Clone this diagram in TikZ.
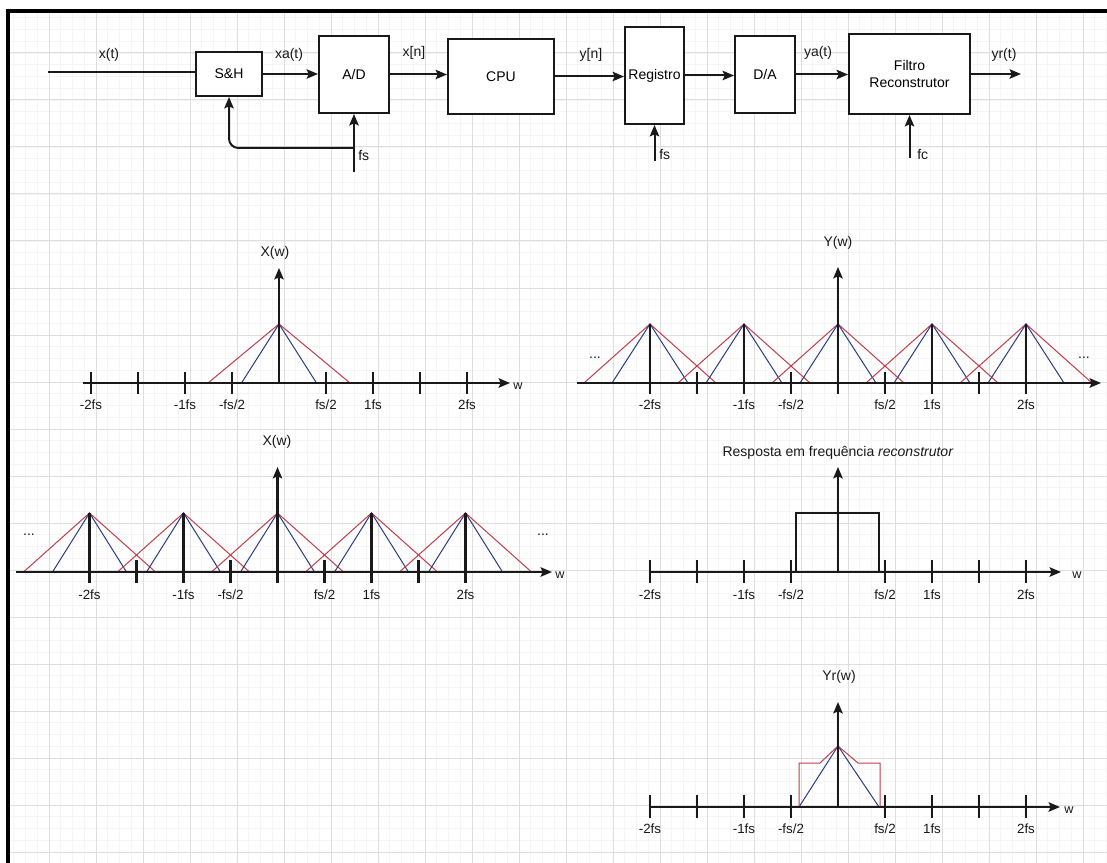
\documentclass[tikz,border=0pt]{standalone}
\usepackage{fontspec}
\setmainfont{Liberation Sans}
\usetikzlibrary{arrows.meta}

\definecolor{gridmajor}{RGB}{222,222,222}
\definecolor{gridminor}{RGB}{245,245,245}
\definecolor{spred}{RGB}{196,60,72}
\definecolor{spblue}{RGB}{42,60,132}
\definecolor{ink}{RGB}{25,25,25}

\tikzset{
  bw/.style={minimum width=#1*0.75pt},
  bh/.style={minimum height=#1*0.75pt},
  blk/.style={draw=ink, line width=1.5pt, fill=white, inner sep=0pt, align=center,
              font=\fontsize{10.5}{12.6}\selectfont},
  lbl/.style={inner sep=0pt, text=ink, font=\fontsize{10.5}{12.6}\selectfont},
  tl/.style={inner sep=0pt, text=ink, font=\fontsize{10}{12}\selectfont},
  wl/.style={inner sep=0pt, anchor=west, text=ink, font=\fontsize{9.5}{11}\selectfont},
  flow/.style={draw=ink, line width=1.5pt, -{Stealth[length=8.5pt,width=7pt,inset=1.5pt]}},
  axisarr/.style={draw=ink, line width=1.6pt, -{Stealth[length=8.5pt,width=7pt,inset=1.5pt]}},
  tk/.style={draw=ink, line width=1.6pt},
  redtri/.style={draw=spred, line width=0.75pt},
  bluetri/.style={draw=spblue, line width=0.75pt},
}

% labels under a frequency axis: centre x, label y, name prefix
\newcommand\freqlabels[3]{%
  \node[tl] (#3a) at (#1-188,#2) {-2fs};
  \node[tl] (#3b) at (#1-94,#2) {-1fs};
  \node[tl] (#3c) at (#1-47,#2) {-fs/2};
  \node[tl] (#3d) at (#1+47,#2) {fs/2};
  \node[tl] (#3e) at (#1+94,#2) {1fs};
  \node[tl] (#3f) at (#1+188,#2) {2fs};
}

\begin{document}
\begin{tikzpicture}[x=0.75pt, y=-0.75pt]
\useasboundingbox (0,0) rectangle (1107,863);
\fill[white] (0,0) rectangle (1107,863);

% background grid
\begin{scope}
  \clip (8,11) rectangle (1107,863);
  \foreach \i in {0,...,94} \draw[gridminor, line width=0.5pt] ({2+11.75*\i},11) -- ({2+11.75*\i},863);
  \foreach \j in {0,...,73} \draw[gridminor, line width=0.5pt] (8,{6+11.75*\j}) -- (1107,{6+11.75*\j});
  \foreach \i in {0,...,23} \draw[gridmajor, line width=0.75pt] ({2+47*\i},11) -- ({2+47*\i},863);
  \foreach \j in {0,...,18} \draw[gridmajor, line width=0.75pt] (8,{6+47*\j}) -- (1107,{6+47*\j});
\end{scope}
\draw[black, line width=2.3pt] (8,863) -- (8,11) -- (1107,11);

% ---------------- block chain ----------------
\node[blk,bw=66,bh=44]  (sh)  at (229,74)    {S\&H};
\node[blk,bw=70,bh=77]  (ad)  at (354,74.5)  {A/D};
\node[blk,bw=106,bh=75] (cpu) at (501,76.5)  {CPU};
\node[blk,bw=59,bh=97]  (reg) at (654.5,75.5){Registro};
\node[blk,bw=60,bh=77]  (da)  at (765,74.5)  {D/A};
\node[blk,bw=121,bh=80] (fil) at (909.5,74)  {Filtro\\Reconstrutor};

\coordinate (xin)   at (48,72);
\coordinate (yout)  at (1021,74);
\coordinate (fsin)  at (354,172);
\coordinate (fsbr)  at (354,148);
\coordinate (fsreg) at (654.5,161);
\coordinate (fcin)  at (909.5,158);

\draw[draw=ink, line width=1.5pt] (xin) -- (xin -| sh.west);
\draw[flow] (sh.east)  -- (sh.east -| ad.west);
\draw[flow] (ad.east)  -- (ad.east -| cpu.west);
\draw[flow] (cpu.east) -- (cpu.east -| reg.west);
\draw[flow] (reg.east) -- (reg.east -| da.west);
\draw[flow] (da.east)  -- (da.east -| fil.west);
\draw[flow] (fil.east) -- (yout);
\draw[flow] (fsin) -- (ad.south);
\draw[flow, rounded corners=7pt] (fsbr) -| (sh.south);
\draw[flow] (fsreg) -- (reg.south);
\draw[flow] (fcin) -- (fil.south);

\node[lbl] (lxt)  at (109,55)  {x(t)};
\node[lbl] (lxat) at (289,55)  {xa(t)};
\node[lbl] (lxn)  at (414,53)  {x[n]};
\node[lbl] (lyn)  at (591,55)  {y[n]};
\node[lbl] (lyat) at (818,53)  {ya(t)};
\node[lbl] (lyrt) at (1004,55) {yr(t)};
\node[lbl,anchor=west] (lfs1) at (358,156) {fs};
\node[lbl,anchor=west] (lfs2) at (659,155) {fs};
\node[lbl,anchor=west] (lfc)  at (917,155) {fc};

% ---------------- X(w), single spectrum ----------------
\begin{scope}[shift={(279,383)}]
  \foreach \k in {-4,-3,-2,-1,1,2,3,4} \draw[tk] (\k*47,-11) -- (\k*47,11);
  \draw[redtri]  (-71,0) -- (0,-59) -- (71,0);
  \draw[bluetri] (-37.5,0) -- (0,-59) -- (37.5,0);
  \draw[axisarr] (-196,0) -- (231,0);
  \draw[axisarr] (0,0) -- (0,-115);
\end{scope}
\node[lbl] (t1) at (275,253) {X(w)};
\node[wl]  (w1) at (513,386) {w};
\freqlabels{279}{405}{p1}

% ---------------- Y(w), periodic spectrum ----------------
\begin{scope}[shift={(838,383)}]
  \foreach \k in {-3,-1,1,3} \draw[tk] (\k*47,-11) -- (\k*47,11);
  \foreach \c in {-188,-94,0,94,188} {
    \draw[redtri]  (\c-66,0) -- (\c,-59) -- (\c+66,0);
    \draw[bluetri] (\c-38,0) -- (\c,-59) -- (\c+38,0);
    \draw[tk] (\c,-59) -- (\c,11);
  }
  \draw[axisarr] (-261,0) -- (263,0);
  \draw[axisarr] (0,0) -- (0,-116);
\end{scope}
\node[lbl] (t2) at (838,243) {Y(w)};
\node[lbl] (d2l) at (595,358) {...};
\node[lbl] (d2r) at (1084,358) {...};
\freqlabels{838}{405}{p2}

% ---------------- X(w), periodic spectrum ----------------
\begin{scope}[shift={(277.5,572)}]
  \foreach \k in {-3,-1,1,3} \draw[tk] (\k*47,-12) -- (\k*47,11);
  \foreach \c in {-188,-94,0,94,188} {
    \draw[redtri]  (\c-66,0) -- (\c,-59) -- (\c+66,0);
    \draw[bluetri] (\c-37,0) -- (\c,-59) -- (\c+37,0);
    \draw[tk] (\c,-59) -- (\c,11);
  }
  \draw[axisarr] (-261.5,0) -- (274.5,0);
  \draw[axisarr] (0,0) -- (0,-105);
\end{scope}
\node[lbl] (t3) at (277,442) {X(w)};
\node[lbl] (d3l) at (29,535) {...};
\node[lbl] (d3r) at (543,535) {...};
\node[wl]  (w3) at (555,575) {w};
\freqlabels{277.5}{595}{p3}

% ---------------- reconstruction filter response ----------------
\begin{scope}[shift={(838,572)}]
  \foreach \k in {-4,-3,-2,-1,1,2,3,4} \draw[tk] (\k*47,-12) -- (\k*47,11);
  \draw[draw=ink, line width=1.2pt] (-42,0) -- (-42,-59) -- (41,-59) -- (41,0);
  \draw[axisarr] (-188,0) -- (223,0);
  \draw[axisarr] (0,0) -- (0,-105);
\end{scope}
\node[lbl] (t4) at (838,453) {Resposta em frequência \textit{reconstrutor}};
\node[wl]  (w4) at (1072,575) {w};
\freqlabels{838}{595}{p4}

% ---------------- Yr(w) ----------------
\begin{scope}[shift={(838,807)}]
  \foreach \k in {-4,-3,-2,-1,1,2,3,4} \draw[tk] (\k*47,-12) -- (\k*47,11);
  \draw[bluetri] (-39,0) -- (0,-61) -- (41,0);
  \draw[redtri] (-39,0) -- (-39,-44) -- (-18,-44) -- (0,-61) -- (20,-44) -- (42,-44) -- (42,0);
  \draw[axisarr] (-189,0) -- (222,0);
  \draw[axisarr] (0,0) -- (0,-105);
\end{scope}
\node[lbl] (t5) at (839,677) {Yr(w)};
\node[wl]  (w5) at (1064,810) {w};
\freqlabels{838}{829}{p5}

\end{tikzpicture}
\end{document}
